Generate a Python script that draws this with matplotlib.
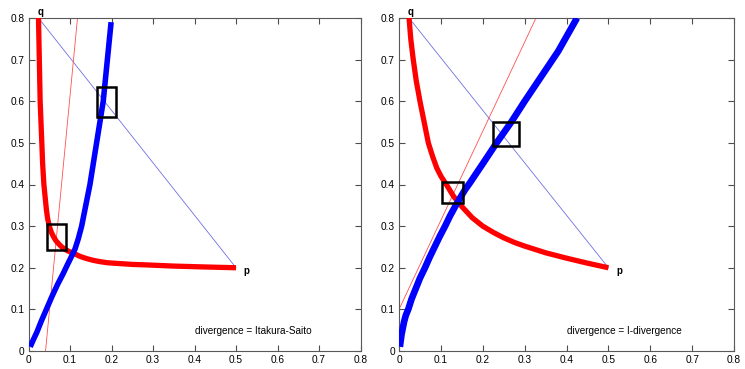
import matplotlib.pyplot as plt
from matplotlib.patches import Rectangle

plt.rcParams['font.family'] = ['Liberation Sans', 'DejaVu Sans']

# end points shared by both panels
p_pt = (0.50, 0.20)
q_pt = (0.024, 0.80)

# --- Itakura-Saito panel ---
is_red_x = [0.024, 0.025, 0.026, 0.027, 0.028, 0.030, 0.032, 0.034, 0.037, 0.040, 0.043,
            0.046, 0.050, 0.055, 0.060, 0.066, 0.072, 0.080, 0.090, 0.100, 0.112, 0.125,
            0.140, 0.155, 0.170, 0.190, 0.220, 0.250, 0.280, 0.350, 0.420, 0.500]
is_red_y = [0.800, 0.750, 0.700, 0.650, 0.600, 0.550, 0.500, 0.450, 0.400, 0.370, 0.340,
            0.318, 0.300, 0.285, 0.275, 0.265, 0.258, 0.250, 0.243, 0.238, 0.233, 0.227,
            0.222, 0.218, 0.215, 0.212, 0.210, 0.208, 0.207, 0.204, 0.202, 0.200]
is_blue_x = [0.004, 0.012, 0.020, 0.030, 0.043, 0.056, 0.070, 0.083, 0.095, 0.104, 0.112,
             0.120, 0.128, 0.134, 0.140, 0.148, 0.156, 0.164, 0.172, 0.180, 0.185, 0.190,
             0.195, 0.199]
is_blue_y = [0.010, 0.028, 0.045, 0.070, 0.100, 0.130, 0.160, 0.185, 0.210, 0.228, 0.245,
             0.270, 0.300, 0.330, 0.360, 0.400, 0.450, 0.500, 0.550, 0.600, 0.650, 0.700,
             0.750, 0.790]
is_line_x = [0.041, 0.118]
is_line_y = [0.000, 0.800]
is_box_x = [0.067, 0.188]
is_box_y = [0.274, 0.598]

# --- I-divergence panel ---
id_red_x = [0.024, 0.028, 0.034, 0.041, 0.050, 0.060, 0.070, 0.080, 0.090, 0.100, 0.113,
            0.130, 0.150, 0.175, 0.200, 0.225, 0.250, 0.275, 0.300, 0.350, 0.400, 0.450,
            0.500]
id_red_y = [0.800, 0.750, 0.700, 0.650, 0.600, 0.550, 0.500, 0.468, 0.440, 0.420, 0.400,
            0.372, 0.347, 0.320, 0.300, 0.285, 0.272, 0.261, 0.252, 0.236, 0.223, 0.211,
            0.200]
id_blue_x = [0.002, 0.004, 0.006, 0.009, 0.012, 0.016, 0.022, 0.030, 0.040, 0.050, 0.062,
             0.073, 0.085, 0.097, 0.110, 0.122, 0.134, 0.146, 0.158, 0.170, 0.200, 0.233,
             0.268, 0.300, 0.340, 0.380, 0.425]
id_blue_y = [0.010, 0.025, 0.040, 0.055, 0.070, 0.085, 0.100, 0.125, 0.150, 0.175, 0.200,
             0.225, 0.250, 0.275, 0.300, 0.325, 0.347, 0.368, 0.388, 0.405, 0.450, 0.500,
             0.550, 0.600, 0.660, 0.720, 0.800]
id_line_x = [0.000, 0.327]
id_line_y = [0.100, 0.800]
id_box_x = [0.127, 0.255]
id_box_y = [0.381, 0.522]

ticks = [0, 0.1, 0.2, 0.3, 0.4, 0.5, 0.6, 0.7, 0.8]
tick_labels = ['0', '0.1', '0.2', '0.3', '0.4', '0.5', '0.6', '0.7', '0.8']

fig = plt.figure(figsize=(7.45, 3.69), dpi=100)
ax1 = fig.add_axes([0.0383, 0.0488, 0.4456, 0.9024])
ax2 = fig.add_axes([0.5356, 0.0488, 0.4497, 0.9024])


def draw_panel(ax, red_x, red_y, blue_x, blue_y, line_x, line_y, box_x, box_y,
               box_sizes, title, blue_lw):
    ax.plot([q_pt[0], p_pt[0]], [q_pt[1], p_pt[1]], color='#7070e0', lw=0.6, zorder=2)
    ax.plot(line_x, line_y, color='#ff5050', lw=0.6, zorder=2)
    ax.plot(red_x, red_y, color='#ff0000', lw=3.8, solid_capstyle='butt',
            solid_joinstyle='round', zorder=3)
    ax.plot(blue_x, blue_y, color='#0000ff', lw=blue_lw, solid_capstyle='butt',
            solid_joinstyle='round', zorder=4)
    for cx, cy, (w, h) in zip(box_x, box_y, box_sizes):
        ax.add_patch(Rectangle((cx - w / 2, cy - h / 2), w, h, fill=False,
                               edgecolor='black', lw=1.8, zorder=5))
    ax.text(p_pt[0] + 0.018, p_pt[1] - 0.007, 'p', fontsize=7, fontweight='bold',
            va='center', ha='left')
    ax.text(q_pt[0] + 0.004, 0.803, 'q', fontsize=7, fontweight='bold',
            va='bottom', ha='center', clip_on=False)
    ax.text(0.402, 0.047, title, fontsize=7.2, va='center', ha='left')

    ax.set_xlim(0, 0.8)
    ax.set_ylim(0, 0.8)
    ax.set_xticks(ticks)
    ax.set_xticklabels(tick_labels)
    ax.set_yticks(ticks)
    ax.set_yticklabels(tick_labels)
    ax.tick_params(direction='in', length=4, width=0.8, top=True, right=True,
                   labelsize=7.3, pad=3, color='0.3')
    for s in ax.spines.values():
        s.set_color('0.35')
        s.set_linewidth(0.8)


draw_panel(ax1, is_red_x, is_red_y, is_blue_x, is_blue_y, is_line_x, is_line_y,
           is_box_x, is_box_y, [(0.046, 0.064), (0.047, 0.071)],
           'divergence = Itakura-Saito', 4.0)
draw_panel(ax2, id_red_x, id_red_y, id_blue_x, id_blue_y, id_line_x, id_line_y,
           id_box_x, id_box_y, [(0.050, 0.050), (0.062, 0.057)],
           'divergence = I-divergence', 4.8)

fig.savefig('out.png', dpi=100)
